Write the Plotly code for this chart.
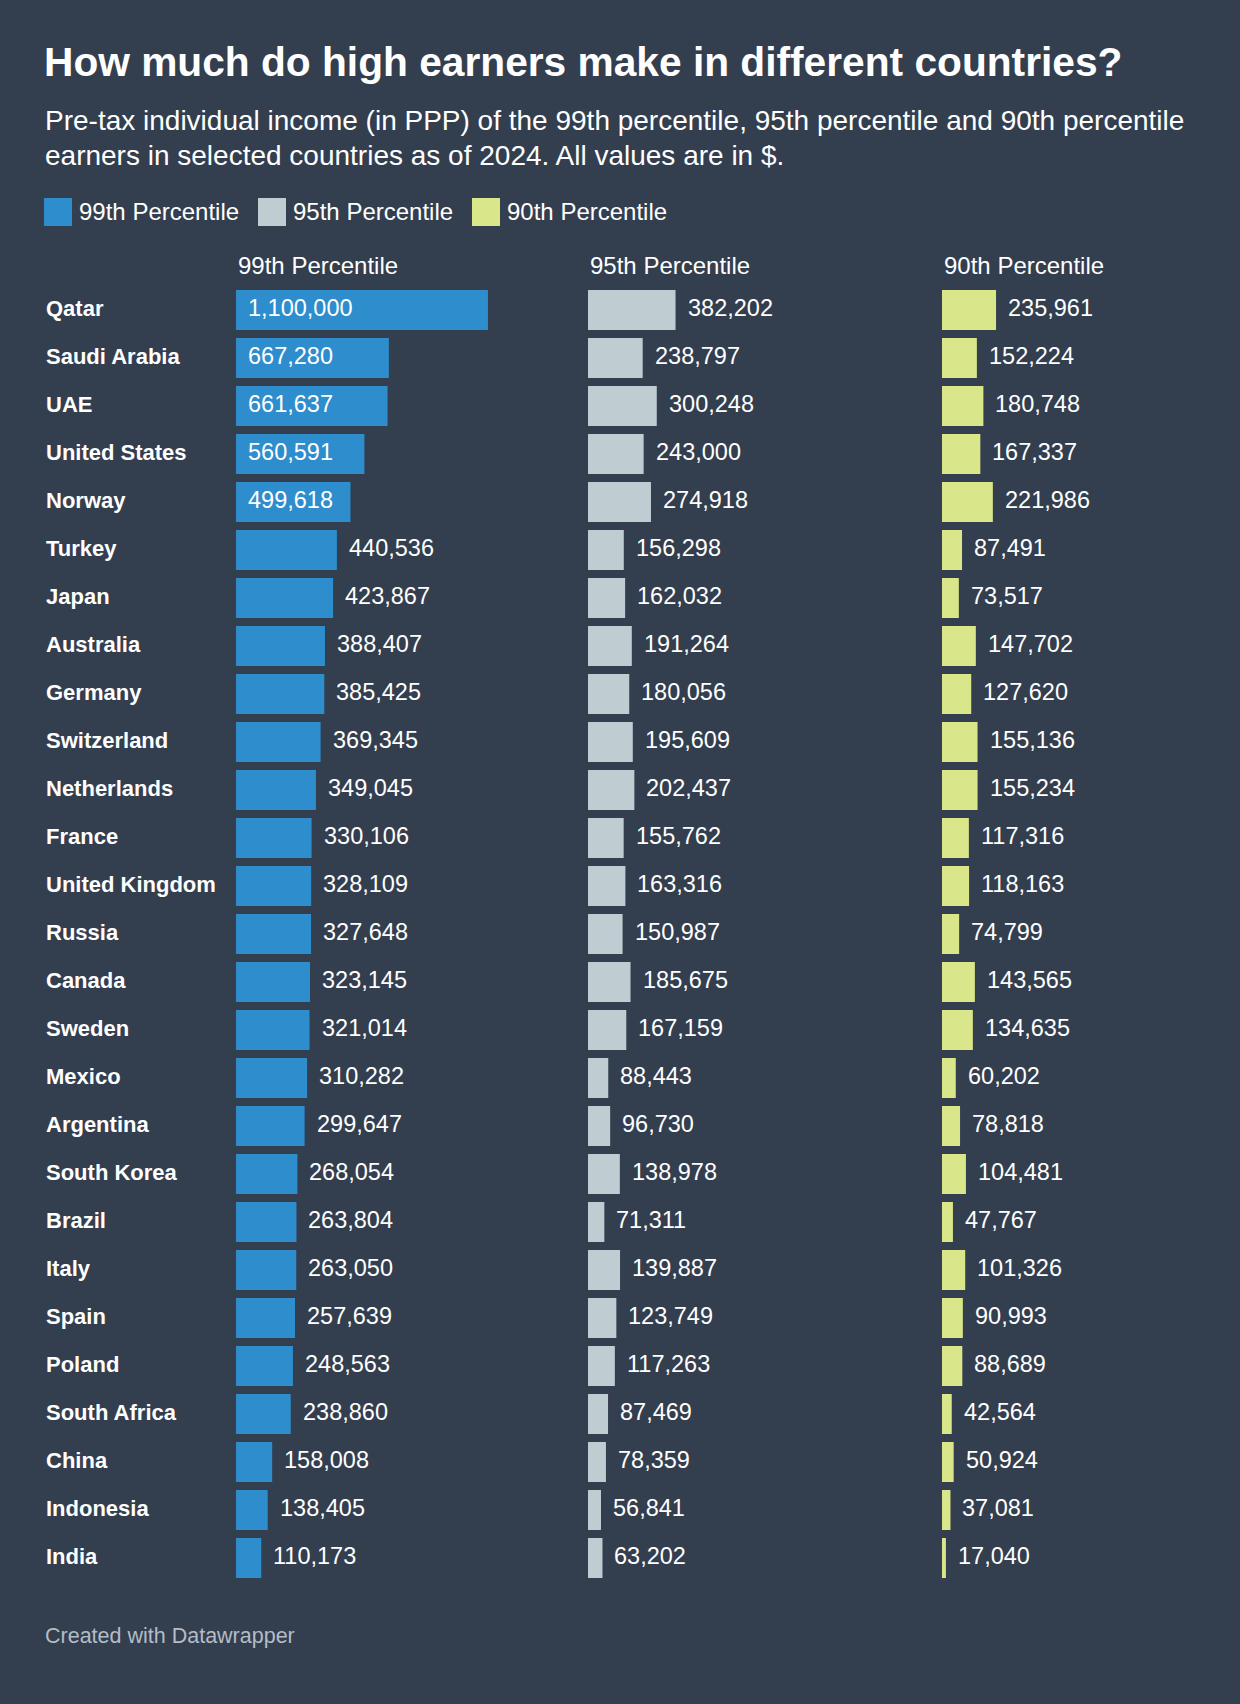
import plotly.graph_objects as go

#############################################################################################

countries = ["Qatar", "Saudi Arabia", "UAE", "United States", "Norway", "Turkey", "Japan",
             "Australia", "Germany", "Switzerland", "Netherlands", "France", "United Kingdom",
             "Russia", "Canada", "Sweden", "Mexico", "Argentina", "South Korea", "Brazil",
             "Italy", "Spain", "Poland", "South Africa", "China", "Indonesia", "India"]

p99 = [1100000, 667280, 661637, 560591, 499618, 440536, 423867, 388407, 385425, 369345,
       349045, 330106, 328109, 327648, 323145, 321014, 310282, 299647, 268054, 263804,
       263050, 257639, 248563, 238860, 158008, 138405, 110173]
p95 = [382202, 238797, 300248, 243000, 274918, 156298, 162032, 191264, 180056, 195609,
       202437, 155762, 163316, 150987, 185675, 167159, 88443, 96730, 138978, 71311,
       139887, 123749, 117263, 87469, 78359, 56841, 63202]
p90 = [235961, 152224, 180748, 167337, 221986, 87491, 73517, 147702, 127620, 155136,
       155234, 117316, 118163, 74799, 143565, 134635, 60202, 78818, 104481, 47767,
       101326, 90993, 88689, 42564, 50924, 37081, 17040]

series_names = ["99th Percentile", "95th Percentile", "90th Percentile"]
series_colors = ["#2e8dcd", "#bfccd1", "#d9e68a"]

title = "How much do high earners make in different countries?"
subtitle = ["Pre-tax individual income (in PPP) of the 99th percentile, 95th percentile and 90th percentile",
            "earners in selected countries as of 2024. All values are in $."]
footer = "Created with Datawrapper"

#############################################################################################

W, H = 1240, 1704
BG = "#333e4f"
FONT = "Liberation Sans, Arial, sans-serif"
X_MAX = 1266000
COL_W = 290
col_left = [236, 588, 942]


def px(x):
  return x / W


def py(y):
  return 1 - y / H


fig = go.Figure()
annotations = []
shapes = []

for i, (name, color, vals) in enumerate(zip(series_names, series_colors, [p99, p95, p90])):
  ax = "x" if i == 0 else "x%d" % (i + 1)
  fig.add_trace(go.Bar(x=vals, y=countries, orientation="h", name=name,
                       marker=dict(color=color, line=dict(width=0)),
                       xaxis=ax, yaxis="y", showlegend=False, hoverinfo="x+y"))
  fig.update_layout(**{("xaxis" if i == 0 else "xaxis%d" % (i + 1)): dict(
    domain=[px(col_left[i]), px(col_left[i] + COL_W)], range=[0, X_MAX],
    visible=False, fixedrange=True, anchor="y")})

  # column header
  annotations.append(dict(text=name, xref=ax + " domain", x=0, yref="paper", y=py(265),
                          xanchor="left", yanchor="middle", showarrow=False,
                          font=dict(size=24, color="white")))

  # value labels: inside the bar when it fits, else right after it
  for c, v in zip(countries, vals):
    label = f"{v:,}"
    bar_px = v / X_MAX * COL_W
    text_px = len(label) * 12.3
    inside = bar_px > text_px + 22
    annotations.append(dict(text=label, xref=ax, x=0 if inside else v, yref="y", y=c,
                            xanchor="left", yanchor="middle", xshift=10, yshift=2,
                            showarrow=False, font=dict(size=23.5, color="white")))

  # legend
  lx = [44, 258, 472][i]
  shapes.append(dict(type="rect", xref="paper", yref="paper", x0=px(lx), x1=px(lx + 28),
                     y0=py(226), y1=py(198), fillcolor=color, line=dict(width=0)))
  annotations.append(dict(text=name, xref="paper", x=px(lx + 33), yref="paper", y=py(211),
                          xanchor="left", yanchor="middle", showarrow=False,
                          font=dict(size=24, color="white")))

for c in countries:
  annotations.append(dict(text="<b>%s</b>" % c, xref="paper", x=px(44), yref="y", y=c,
                          xanchor="left", yanchor="middle", yshift=2, showarrow=False,
                          font=dict(size=22, color="white")))

annotations.append(dict(text="<b>%s</b>" % title, xref="paper", x=px(42), yref="paper", y=py(62),
                        xanchor="left", yanchor="middle", showarrow=False,
                        font=dict(size=40.7, color="white")))
for j, line in enumerate(subtitle):
  annotations.append(dict(text=line, xref="paper", x=px(43), yref="paper", y=py(120 + 35 * j),
                          xanchor="left", yanchor="middle", showarrow=False,
                          font=dict(size=28, color="white")))
annotations.append(dict(text=footer, xref="paper", x=px(43), yref="paper", y=py(1636),
                        xanchor="left", yanchor="middle", showarrow=False,
                        font=dict(size=21.5, color="#b4bcc6")))

fig.update_layout(
  width=W, height=H,
  margin=dict(l=0, r=0, t=0, b=0),
  paper_bgcolor=BG, plot_bgcolor=BG,
  font=dict(family=FONT, color="white"),
  bargap=8 / 48,
  yaxis=dict(domain=[py(1582), py(286)], categoryorder="array", categoryarray=countries,
             autorange="reversed", visible=False, fixedrange=True),
  annotations=annotations, shapes=shapes,
)

# drop the default 8px page margin so the chart fills the window
fig.write_html("out.html", config={"displayModeBar": False},
               post_script="document.body.style.margin='0';")
